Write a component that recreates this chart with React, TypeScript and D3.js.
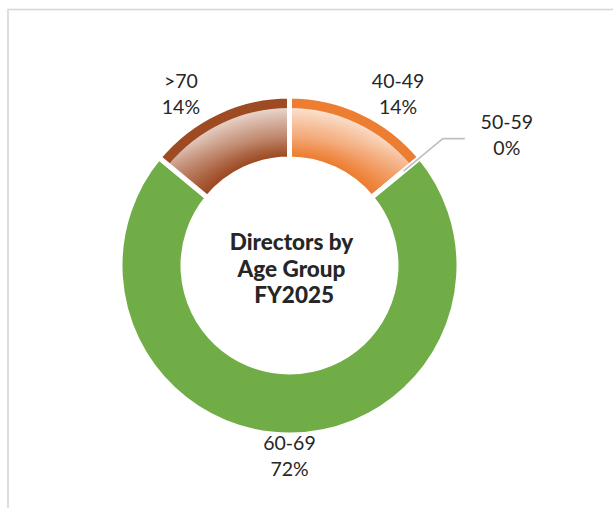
import React from "react";
import * as d3 from "d3";

const categories = ["40-49", "50-59", "60-69", ">70"];
const values = [14, 0, 72, 14];
const percentLabels = ["14%", "0%", "72%", "14%"];
const titleLines = ["Directors by", "Age Group", " FY2025"];

const sliceColors = ["#ED7D31", "#A5A5A5", "#70AD47", "#9E4A22"];
const shaded = [true, false, false, true];

const W = 613;
const H = 508;
const cx = 289.5;
const cy = 265.5;
const rOuter = 167;
const rInner = 109;
const gap = 5;
const rimWidth = 9.5;

export default function App() {
  const pie = d3
    .pie<number>()
    .sort(null)
    .value((d) => d)
    .startAngle(0)
    .endAngle(2 * Math.PI);
  const arcs = pie(values);

  const arcGen = d3
    .arc<d3.PieArcDatum<number>>()
    .innerRadius(rInner - gap / 2)
    .outerRadius(rOuter + gap / 2);
  const overlayGen = d3
    .arc<d3.PieArcDatum<number>>()
    .innerRadius(rInner)
    .outerRadius(rOuter - rimWidth);

  const polar = (r: number, a: number) => [cx + r * Math.sin(a), cy - r * Math.cos(a)];

  const font = "Lato, 'Open Sans', sans-serif";
  const textColor = "#262626";
  const rShade = rOuter - rimWidth;

  return (
    <svg
      width={W}
      height={H}
      style={{ position: "absolute", left: 0, top: 0, background: "#fff" }}
    >
      <defs>
        <radialGradient id="ringShade" gradientUnits="userSpaceOnUse" cx={0} cy={0} r={rShade}>
          <stop offset={rInner / rShade} stopColor="#fff" stopOpacity={0} />
          <stop offset={0.82} stopColor="#fff" stopOpacity={0.4} />
          <stop offset={1} stopColor="#fff" stopOpacity={0.8} />
        </radialGradient>
        <linearGradient id="vertFade" gradientUnits="userSpaceOnUse" x1={0} y1={cy - rOuter} x2={0} y2={cy - rInner * 0.5}>
          <stop offset={0} stopColor="#fff" stopOpacity={1} />
          <stop offset={0.4} stopColor="#fff" stopOpacity={0.85} />
          <stop offset={1} stopColor="#fff" stopOpacity={0.15} />
        </linearGradient>
        <mask id="vertMask" maskUnits="userSpaceOnUse" x={0} y={0} width={W} height={H}>
          <rect x={0} y={0} width={W} height={H} fill="url(#vertFade)" />
        </mask>
      </defs>

      {/* frame */}
      <path d={`M8,${H + 5}V9.5H${W + 5}`} fill="none" stroke="#D6D6D6" strokeWidth={1.6} />

      {/* slices */}
      <g transform={`translate(${cx},${cy})`}>
        {arcs.map((a, i) => (
          <path
            key={categories[i]}
            d={arcGen(a) || ""}
            fill={sliceColors[i]}
            stroke="#fff"
            strokeWidth={gap}
            strokeLinejoin="miter"
          />
        ))}
      </g>
      <g mask="url(#vertMask)">
        {arcs.map((a, i) =>
          shaded[i] && a.endAngle > a.startAngle ? (
            <path
              key={"ov" + categories[i]}
              d={overlayGen(a) || ""}
              fill="url(#ringShade)"
              transform={`translate(${cx},${cy})`}
            />
          ) : null
        )}
      </g>

      {/* labels */}
      {arcs.map((a, i) => {
        const mid = (a.startAngle + a.endAngle) / 2;
        if (a.endAngle - a.startAngle < 1e-6) {
          const [x1, y1] = polar(148, mid);
          const [x2, y2] = polar(199, mid);
          const x3 = x2 + 22;
          return (
            <g key={"lab" + i}>
              <polyline
                points={`${x1},${y1} ${x2},${y2} ${x3},${y2}`}
                fill="none"
                stroke="#BFBFBF"
                strokeWidth={1.6}
              />
              <text
                x={x3 + 42}
                y={y2 - 10}
                textAnchor="middle"
                fontFamily={font}
                fontSize={19.5}
                fill={textColor}
              >
                <tspan x={x3 + 42} dy={0}>{categories[i]}</tspan>
                <tspan x={x3 + 42} dy={26}>{percentLabels[i]}</tspan>
              </text>
            </g>
          );
        }
        const lx = cx + 255 * Math.sin(mid);
        const ly = cy - 190 * Math.cos(mid);
        return (
          <text
            key={"lab" + i}
            x={lx}
            y={ly - 6}
            textAnchor="middle"
            fontFamily={font}
            fontSize={19.5}
            fill={textColor}
          >
            <tspan x={lx} dy={0}>{categories[i]}</tspan>
            <tspan x={lx} dy={26}>{percentLabels[i]}</tspan>
          </text>
        );
      })}

      {/* center title */}
      <text
        x={cx + 2}
        y={cy - 15.5}
        textAnchor="middle"
        fontFamily={font}
        fontWeight={900}
        fontSize={22.5}
        fill={textColor}
        style={{ whiteSpace: "pre" }}
        xmlSpace="preserve"
      >
        {titleLines.map((t, i) => (
          <tspan key={t} x={cx + 2} dy={i === 0 ? 0 : 26.5}>
            {t}
          </tspan>
        ))}
      </text>
    </svg>
  );
}
